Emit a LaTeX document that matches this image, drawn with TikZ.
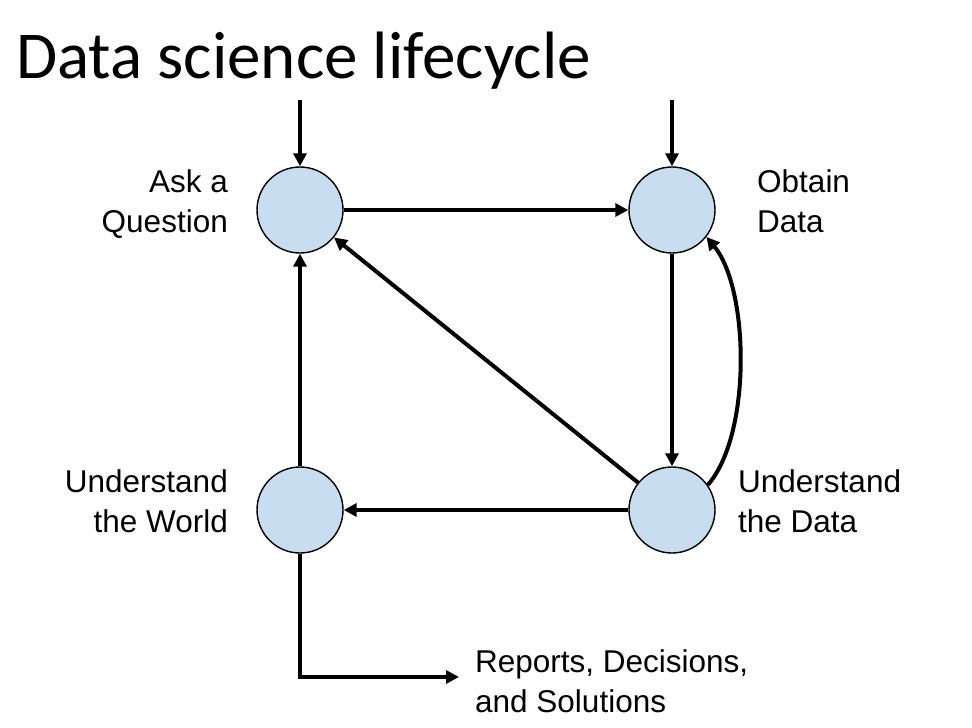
\documentclass[tikz,border=0pt]{standalone}
\usepackage{fontspec}
\setmainfont{Liberation Sans}
\newfontfamily\titlefont{Carlito}
\usetikzlibrary{arrows.meta}
\definecolor{nodeblue}{RGB}{200,221,240}
\tikzset{
  stage/.style={circle, draw=black, line width=1.4pt, fill=nodeblue, minimum size=86pt, inner sep=0pt},
  flow/.style={line width=4pt, -{Triangle[length=13pt,width=13pt]}},
  lbl/.style={font=\fontsize{31.5}{39.5}\selectfont, inner sep=0pt},
}
\begin{document}
\begin{tikzpicture}[x=1pt,y=-1pt]
\useasboundingbox[fill=white] (0,0) rectangle (972,728);
\node[anchor=base west, inner sep=0pt, font=\titlefont\fontsize{67}{75}\selectfont] (title) at (16,78) {Data science lifecycle};

\node[stage] (ask) at (300,210) {};
\node[stage] (obt) at (672,210) {};
\node[stage] (uw) at (300,510) {};
\node[stage] (ud) at (672,510) {};

\coordinate (askin) at (300,100);
\coordinate (obtin) at (672,100);
\coordinate (corner) at (300,677);
\coordinate (repend) at (459,677);

\node[lbl, anchor=base east, align=right] (askl) at (228,232) {Ask a\\Question};
\node[lbl, anchor=base west, align=left] (obtl) at (757,232) {Obtain\\Data};
\node[lbl, anchor=base east, align=right] (uwl) at (228,532) {Understand\\the World};
\node[lbl, anchor=base west, align=left] (udl) at (738,532) {Understand\\the Data};
\node[lbl, anchor=base west, align=left] (rep) at (475,712) {Reports, Decisions,\\and Solutions};

\draw[flow] (askin) -- (ask);
\draw[flow] (obtin) -- (obt);
\draw[flow] (ask) -- (obt);
\draw[flow] (obt) -- (ud);
\draw[flow] (ud) -- (ask);
\draw[flow] (ud) -- (uw);
\draw[flow] (uw) -- (ask);
\draw[flow] (ud.35) .. controls +(44,-50) and +(43,52) .. (obt.-38);
\draw[flow] (uw.south) -- (corner) -- (repend);
\end{tikzpicture}
\end{document}
